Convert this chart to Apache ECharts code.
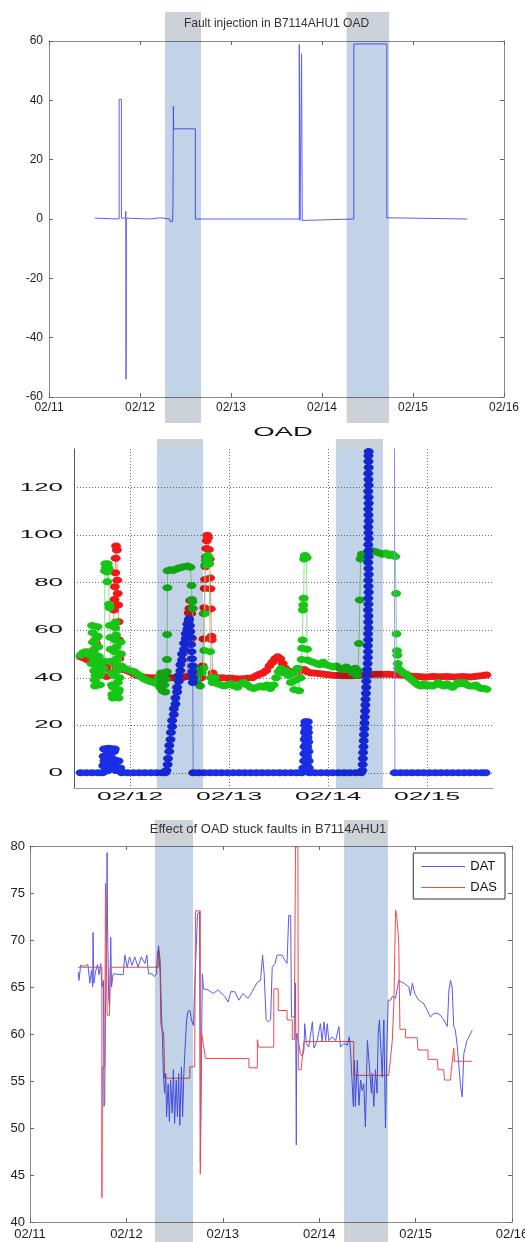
<!DOCTYPE html>
<html>
<head>
<meta charset="utf-8">
<script src="https://cdn.jsdelivr.net/npm/echarts@6/dist/echarts.min.js"></script>
<style>
  html, body { margin: 0; padding: 0; background: #ffffff; }
  #chart { width: 525px; height: 1242px; }
</style>
</head>
<body>
<div id="chart"></div>
<script>
// Time is in hours counted from 02/11 00:00.
const dayTicks = ['02/11', '02/12', '02/13', '02/14', '02/15', '02/16'];
const oadDayValues = [24, 48, 72, 96];
const oadDayLabels = ['02/12', '02/13', '02/14', '02/15'];
const oadTickValues = [0, 20, 40, 60, 80, 100, 120];
const oadTickLabels = ['0', '20', '40', '60', '80', '100', '120'];

// Fault windows (start, end) for each panel
const faultWindowsTop = [[30.6, 40.1], [78.5, 89.7]];
const faultWindowsMid = [[30.5, 41.7], [73.9, 85.3]];
const faultWindowsBottom = [[31.1, 40.6], [78.2, 89.1]];

// Injected fault on the outdoor air damper
const faultInjection = [
  [12.05, 0.3], [12.4, 0], [18.5, 0], [18.5, 40.3], [19.1, 40.3], [19.1, 0.3], [20.2, 0.3], [20.25, 2.6],
  [20.3, -54], [20.35, -48], [20.4, 0.3], [20.8, 0], [26.6, 0], [26.6, 0.4], [29.3, 0.4], [29.3, 0],
  [31.9, 0], [31.9, -0.8], [32.6, -0.8], [32.7, 5], [32.8, 38], [32.9, 30.4], [38.6, 30.4], [38.6, 0],
  [66.0, 0], [66.0, 58.8], [66.2, -0.5], [66.5, 0], [66.6, 55.7], [66.8, -0.5], [67.0, 0], [80.4, 0],
  [80.4, 59], [89.1, 59], [89.1, 0.4], [89.9, 0.4], [89.9, 0], [110.3, 0]
];

// OAD panel: fault signal (blue), reference position (red), measured position (green)
const oadFault = [
  [12.0, 0], [13.4, 0], [14.8, 0], [16.2, 0], [17.3, 0],
  [17.5, 3], [17.6, 7], [17.7, 10], [17.8, 5], [17.9, 0.5], [18.0, 6], [18.1, 10], [18.3, 4], [18.4, 9.5],
  [18.6, 1], [18.7, 7], [18.8, 10.3], [19.0, 3], [19.1, 8], [19.3, 10], [19.5, 2], [19.6, 6], [19.8, 10],
  [20.0, 4], [20.1, 9], [20.3, 10], [20.4, 5.3], [20.6, 1], [20.8, 5], [21.0, 2], [21.2, 5], [21.4, 1.5],
  [21.6, 2], [21.8, 0.5], [22.0, 0],
  [23.4, 0], [24.8, 0], [26.2, 0], [27.6, 0], [29.0, 0], [30.4, 0], [31.8, 0], [32.5, 0],
  [32.8, 1], [33.1, 3.5], [33.2, 6], [33.5, 9], [33.5, 11.5], [33.8, 14], [33.9, 17], [34.2, 19.5],
  [34.2, 22], [34.6, 24.5], [34.6, 27], [35.0, 29], [35.0, 31.5], [35.4, 34], [35.4, 36], [35.8, 38.5],
  [35.8, 41], [36.2, 43], [36.2, 45.5], [36.6, 47.5], [36.6, 50], [37.1, 52], [37.1, 54.5], [37.5, 56.5],
  [37.5, 58.5], [37.9, 60.5], [37.9, 62.5], [38.2, 64], [38.3, 64.8], [38.5, 62], [38.6, 59.5], [38.7, 57],
  [38.8, 54], [38.9, 51], [39.0, 48], [39.1, 45], [39.1, 42.5], [39.2, 40], [39.2, 38], [39.3, 0],
  [40.6, 0], [42.0, 0], [43.4, 0], [44.8, 0], [46.2, 0], [47.6, 0], [49.0, 0], [50.4, 0], [51.8, 0],
  [53.2, 0], [54.6, 0], [56.0, 0], [57.4, 0], [58.8, 0], [60.2, 0], [61.6, 0], [63.0, 0], [64.4, 0], [65.6, 0],
  [66.0, 2], [66.2, 5], [66.25, 8], [66.3, 11], [66.35, 14], [66.4, 17], [66.45, 20], [66.5, 21.5],
  [66.6, 18], [66.65, 15], [66.7, 12], [66.75, 9], [66.8, 6], [66.85, 3], [66.9, 7], [66.95, 11],
  [67.0, 15], [67.05, 19], [67.1, 21.5], [67.15, 17], [67.2, 13], [67.25, 9], [67.3, 5], [67.35, 2], [67.5, 0],
  [68.9, 0], [70.3, 0], [71.7, 0], [73.1, 0], [74.5, 0], [75.9, 0], [77.3, 0], [78.7, 0], [80.0, 0],
  [80.3, 1], [80.4, 3.5], [80.45, 6], [80.5, 8.5], [80.6, 11], [80.65, 13.5], [80.7, 16], [80.8, 18.5],
  [80.85, 21], [80.9, 23.5], [81.0, 26], [81.05, 28.5], [81.1, 31], [81.2, 33.5], [81.25, 36], [81.3, 38.5],
  [81.4, 41], [81.5, 43.5], [81.6, 46], [81.65, 48.5], [81.7, 51], [81.65, 53.5], [81.75, 56], [81.7, 58.5],
  [81.8, 61], [81.75, 63.5], [81.8, 66], [81.7, 68.5], [81.8, 71], [81.75, 73.5], [81.85, 76], [81.8, 78.5],
  [81.75, 81], [81.85, 83.5], [81.8, 86], [81.75, 88.5], [81.85, 91], [81.8, 93.5], [81.75, 96],
  [81.85, 98.5], [81.8, 101], [81.75, 103.5], [81.85, 106], [81.8, 108.5], [81.75, 111], [81.85, 113.5],
  [81.8, 116], [81.75, 118.5], [81.85, 121], [81.8, 123.5], [81.75, 126], [81.85, 128.5], [81.8, 131],
  [81.8, 133.5], [81.85, 135.2], [82.0, 150], [88.1, 150], [88.2, 0],
  [89.6, 0], [91.0, 0], [92.4, 0], [93.8, 0], [95.2, 0], [96.6, 0], [98.0, 0], [99.4, 0], [100.8, 0],
  [102.2, 0], [103.6, 0], [105.0, 0], [106.4, 0], [107.8, 0], [109.2, 0], [110.2, 0]
];

const oadReference = [
  [12.0, 48.8], [12.8, 48.3], [13.6, 47.6], [14.4, 47], [15.0, 46.5], [15.3, 52], [15.5, 56], [15.7, 54.5],
  [15.9, 47], [16.6, 46], [17.4, 45], [18.0, 44.5], [18.3, 40.5], [18.6, 44], [19.2, 43.5], [19.8, 44],
  [20.0, 62], [20.1, 68.5], [20.2, 73], [20.3, 78.3], [20.4, 84.2], [20.5, 90.3], [20.6, 95.5], [20.8, 93.8],
  [20.9, 81.1], [21.0, 75.5], [21.1, 70.6], [21.2, 63.6], [21.3, 55.9], [21.4, 48], [21.6, 44], [22.4, 43.5],
  [23.2, 43], [24.0, 42.5], [24.8, 41.8], [25.6, 41], [26.4, 40.6], [27.2, 40.3], [28.0, 40.1], [29.0, 40],
  [30.0, 40], [31.0, 40], [32.0, 40], [33.0, 40], [34.0, 40], [35.0, 40], [36.0, 40], [37.0, 40.2],
  [37.8, 40.5], [38.2, 67.3], [38.4, 69.2], [38.6, 72.5], [38.8, 67], [39.0, 56.6], [39.2, 42], [39.8, 40.5],
  [40.6, 40], [41.3, 40], [41.6, 45], [41.8, 56.3], [41.9, 67], [42.0, 69.5], [42.1, 77.6], [42.2, 81.4],
  [42.3, 86.7], [42.4, 90.9], [42.5, 94.4], [42.6, 97.7], [42.7, 100], [42.9, 99], [43.1, 94], [43.3, 90],
  [43.4, 82], [43.5, 77.5], [43.6, 69], [43.7, 57.5], [43.8, 56], [44.0, 42], [44.4, 40.5], [45.2, 40],
  [46.4, 40], [47.6, 39.8], [48.8, 39.8], [50.0, 39.6], [51.2, 39.6], [52.4, 39.8], [53.6, 40], [54.6, 40.8],
  [55.4, 41.5], [56.2, 42], [57.0, 43], [57.8, 45], [58.5, 46.5], [59.2, 48], [59.8, 48.8], [60.4, 48],
  [61.0, 46], [61.6, 44], [62.2, 43], [63.0, 42.5], [63.8, 42], [64.6, 42], [65.4, 43], [66.2, 43.5],
  [67.0, 42.5], [67.8, 42], [68.6, 42], [69.6, 41.8], [70.6, 41.6], [71.6, 41.4], [72.6, 41.2], [73.6, 41],
  [74.6, 41], [75.6, 40.8], [76.6, 40.8], [77.6, 40.8], [78.6, 41], [79.6, 41], [80.6, 41.2], [81.6, 41.2],
  [82.6, 41.4], [83.6, 41.5], [84.6, 41.5], [85.6, 41.5], [86.6, 41.5], [87.6, 41.4], [88.6, 41.3],
  [89.6, 41.2], [90.6, 41], [91.6, 40.8], [92.6, 40.6], [93.6, 40.5], [94.6, 40.4], [95.6, 40.3],
  [96.6, 40.4], [97.6, 40.5], [98.6, 40.4], [99.6, 40.4], [100.6, 40.5], [101.6, 40.4], [102.6, 40.3],
  [103.6, 40.4], [104.6, 40.5], [105.6, 40.4], [106.6, 40.3], [107.6, 40.5], [108.6, 40.7], [109.6, 41],
  [110.4, 41.2]
];

const oadMeasured = [
  [12.0, 49.5], [12.6, 50.5], [13.2, 51], [13.8, 50.8], [14.3, 49.5], [14.6, 46], [14.8, 62], [14.9, 59],
  [15.0, 55], [15.1, 51], [15.2, 47], [15.3, 43], [15.4, 39], [15.5, 36.5], [15.6, 41], [15.7, 45],
  [15.8, 49], [15.9, 53], [16.0, 57], [16.1, 61.5], [16.2, 57.5], [16.3, 53], [16.4, 49], [16.5, 45],
  [16.6, 41], [16.7, 37], [16.9, 42], [17.2, 47], [17.5, 44], [17.8, 47], [17.9, 85], [18.0, 88],
  [18.2, 86.5], [18.4, 84.5], [18.5, 80.4], [18.6, 88], [18.8, 86], [18.9, 71], [19.0, 69.5], [19.1, 62],
  [19.2, 57], [19.3, 52], [19.4, 47], [19.5, 42], [19.6, 37], [19.7, 33], [19.8, 31.5], [19.9, 36],
  [20.0, 41], [20.1, 46], [20.2, 51], [20.3, 56], [20.4, 61], [20.5, 63.5], [20.6, 58], [20.7, 53],
  [20.8, 48], [20.9, 43], [21.0, 38], [21.1, 34], [21.2, 31.5], [21.3, 35], [21.4, 40], [21.5, 45],
  [21.6, 50], [21.7, 55], [21.8, 50], [21.9, 45], [22.5, 44], [23.3, 43.5], [24.2, 43], [25.0, 42.5],
  [25.8, 41.5], [26.6, 40.5], [27.4, 39.5], [28.2, 38.8], [29.0, 38.3], [29.8, 38], [30.5, 37.5],
  [31.0, 40], [31.3, 36], [31.5, 42], [31.7, 38], [31.9, 34.5], [32.1, 41], [32.3, 37], [32.5, 34],
  [32.7, 39.5], [32.9, 42.5], [32.95, 47.7], [33.0, 58.2], [33.05, 77.9], [33.1, 85], [33.8, 85.5],
  [34.5, 85.2], [35.2, 85.8], [35.9, 86.2], [36.6, 86.5], [37.3, 86.8], [38.0, 87], [38.6, 86.5],
  [38.9, 78.8], [39.0, 73], [39.1, 72], [39.2, 69.2], [39.3, 45], [39.6, 40], [40.2, 38], [40.6, 43],
  [41.0, 36.5], [41.4, 42], [41.8, 44], [42.0, 51.5], [42.1, 67], [42.2, 87.5], [42.4, 89.5], [42.6, 91],
  [42.8, 91.5], [43.0, 90.5], [43.2, 88], [43.4, 51], [43.6, 40], [44.0, 38], [44.5, 40], [45.2, 37.5],
  [46.0, 37], [46.8, 36.5], [47.6, 37], [48.4, 37.5], [49.2, 36.5], [50.0, 36], [50.8, 37.5], [51.6, 38],
  [52.4, 37], [53.2, 36], [54.0, 35.5], [54.8, 36], [55.6, 36.5], [56.4, 36], [57.2, 37], [58.0, 35.5],
  [58.8, 37], [59.4, 40], [60.0, 42.5], [60.6, 43.8], [61.2, 42], [61.8, 43], [62.4, 41], [63.0, 38],
  [63.4, 42], [63.8, 35], [64.2, 39], [64.6, 44], [65.0, 34.5], [65.3, 40], [65.6, 47.7], [65.7, 52.4],
  [65.8, 55.9], [65.9, 68.5], [66.0, 70.6], [66.1, 73.5], [66.2, 90], [66.4, 91.5], [66.6, 91],
  [66.8, 90.5], [66.9, 52], [67.0, 47.5], [67.6, 47], [68.4, 46.5], [69.2, 46], [70.0, 45.5], [70.8, 46.5],
  [71.6, 45.5], [72.4, 45], [73.2, 44.5], [74.0, 45], [74.8, 44], [75.6, 43.5], [76.4, 44.5], [77.2, 43.5],
  [78.0, 42], [78.6, 44], [79.0, 41], [79.3, 43], [79.5, 54.4], [79.7, 72.7], [79.9, 90], [80.2, 92],
  [80.6, 90.5], [81.0, 91.5], [81.4, 92.5], [82.0, 93], [82.8, 93.5], [83.6, 93], [84.4, 92.5], [85.2, 92],
  [86.0, 92.5], [86.8, 91.5], [87.6, 92], [88.3, 91], [88.5, 75.5], [88.6, 58.4], [88.7, 51.4], [88.8, 49.5],
  [88.9, 46], [89.0, 43.9], [89.6, 43], [90.3, 42], [91.0, 41.5], [91.7, 40], [92.4, 39], [93.1, 38],
  [93.8, 37], [94.5, 36.5], [95.2, 37.5], [95.9, 36.5], [96.6, 37], [97.3, 36.5], [98.0, 37], [98.7, 38],
  [99.4, 37], [100.1, 36.5], [100.8, 37.5], [101.5, 36.5], [102.2, 36], [102.9, 37], [103.6, 38],
  [104.3, 37.5], [105.0, 38], [105.7, 37], [106.4, 36.5], [107.1, 36.5], [107.8, 37], [108.5, 36],
  [109.2, 35.5], [109.9, 35.5], [110.4, 35.2]
];

// Discharge air temperature (DAT) and its setpoint (DAS)
const dat = [
  [12.0, 66.6], [12.2, 65.7], [12.6, 67.3], [13.6, 67.2], [14.4, 67.4], [14.9, 65.4], [15.3, 66.8],
  [15.6, 65.0], [15.7, 70.8], [15.9, 65.4], [16.3, 66.6], [16.8, 67.4], [17.2, 66.3], [17.6, 67.5],
  [17.9, 65.0], [18.3, 65.7], [18.4, 52.3], [18.6, 52.6], [18.8, 62.9], [19.1, 72.8], [19.2, 79.3],
  [19.3, 71.7], [19.6, 63.6], [19.8, 62.9], [20.1, 70.3], [20.3, 65.0], [20.5, 65.7], [20.7, 66.4],
  [21.1, 66.3], [23.2, 66.3], [23.6, 68.4], [24.2, 67.1], [24.8, 68.2], [25.4, 67.3], [26.1, 68.2],
  [26.9, 67.1], [27.7, 68.2], [28.6, 67.5], [29.1, 68.4], [29.5, 66.4], [30.4, 66.4], [30.9, 66.1],
  [31.5, 66.4], [31.7, 68.4], [32.0, 69.4], [32.4, 67.8], [32.7, 62.5], [33.0, 59.3], [33.2, 55.8],
  [33.5, 53.7], [33.8, 55.8], [34.0, 51.2], [34.4, 54.7], [34.7, 50.7], [35.0, 55.1], [35.4, 51.6],
  [35.7, 56.2], [36.0, 50.5], [36.4, 55.1], [36.7, 51.2], [37.0, 55.8], [37.3, 50.3], [37.7, 56.5],
  [38.0, 51.2], [38.3, 55.8], [38.7, 59.3], [39.0, 61.5], [39.3, 62.4], [39.8, 62.5], [40.2, 61.5],
  [40.7, 60.9], [41.0, 65.0], [41.4, 69.3], [41.7, 72.8], [42.2, 73.0], [42.4, 46.4], [42.7, 46.4],
  [42.9, 66.4], [43.2, 64.8], [44.3, 64.7], [45.6, 64.3], [46.8, 64.7], [48.5, 64.0], [49.3, 63.4],
  [50.0, 64.5], [51.0, 64.5], [52.0, 63.6], [53.0, 64.3], [54.3, 63.8], [55.3, 64.5], [56.6, 65.5],
  [57.4, 65.7], [57.9, 68.4], [58.3, 66.4], [58.8, 61.5], [59.3, 61.3], [59.9, 61.5], [60.3, 67.1],
  [61.0, 67.5], [61.5, 68.4], [62.8, 68.4], [63.2, 68.0], [64.0, 67.5], [64.4, 72.6], [64.9, 72.6],
  [65.1, 61.8], [65.9, 61.8], [66.1, 65.4], [66.3, 48.2], [66.4, 60.1], [66.8, 59.3], [67.3, 57.9],
  [67.8, 57.6], [68.2, 58.3], [68.4, 61.1], [68.8, 59.0], [69.4, 58.6], [70.3, 61.3], [70.7, 58.5],
  [71.5, 59.3], [72.3, 61.1], [72.7, 59.2], [73.2, 61.3], [73.6, 59.3], [74.0, 61.1], [74.4, 59.3],
  [75.2, 59.7], [76.1, 59.3], [76.9, 60.8], [77.3, 58.6], [78.1, 59.0], [79.0, 58.8], [79.5, 59.7],
  [79.8, 58.3], [80.2, 58.1], [80.5, 52.3], [80.8, 57.2], [81.0, 52.3], [81.5, 57.2], [81.9, 52.4],
  [82.3, 55.1], [82.7, 54.0], [83.1, 54.7], [83.5, 50.1], [84.0, 59.3], [84.3, 59.5], [84.5, 56.5],
  [85.0, 53.7], [85.2, 55.8], [85.6, 52.3], [86.0, 56.2], [86.4, 53.7], [86.7, 60.1], [87.0, 61.5],
  [87.3, 61.5], [87.7, 55.4], [88.1, 61.5], [88.5, 50.0], [88.9, 59.7], [89.2, 63.6], [89.8, 63.6],
  [90.2, 64.0], [91.0, 63.8], [91.8, 65.7], [93.1, 65.4], [94.3, 65.0], [94.7, 64.1], [95.2, 65.4],
  [95.8, 64.3], [96.8, 63.6], [98.1, 63.2], [98.9, 62.5], [99.7, 61.8], [100.5, 62.2], [101.4, 62.2],
  [102.2, 62.0], [103.0, 61.5], [103.9, 60.8], [104.3, 64.7], [104.7, 65.7], [105.1, 65.0], [105.5, 60.8],
  [105.9, 60.4], [106.4, 58.6], [106.8, 56.5], [107.2, 54.4], [107.6, 53.3], [108.0, 57.9], [108.4, 58.6],
  [108.8, 59.3], [109.3, 59.7], [110.1, 60.4]
];

const das = [
  [12.0, 67.1], [17.9, 67.1], [17.9, 42.6], [18.0, 56.5], [18.6, 56.5], [18.8, 76.0], [19.2, 76.0],
  [19.2, 62.0], [19.8, 62.0], [20.0, 67.1], [31.9, 67.1], [32.0, 68.9], [32.4, 66.5], [32.6, 61.0],
  [33.3, 60.0], [33.5, 55.3], [39.8, 55.3], [39.8, 56.5], [41.0, 56.5], [41.2, 73.1], [42.4, 73.1],
  [42.4, 45.1], [42.7, 60.1], [43.7, 57.4], [54.5, 57.4], [54.5, 56.4], [56.6, 56.4], [56.6, 59.4],
  [56.9, 58.6], [60.7, 58.6], [60.7, 64.8], [61.8, 64.8], [61.8, 62.5], [64.0, 62.5], [64.0, 61.5],
  [65.3, 61.5], [65.3, 59.4], [65.8, 59.4], [66.1, 79.9], [66.7, 79.9], [66.8, 56.2], [67.5, 56.2],
  [68.2, 59.2], [80.6, 59.2], [80.6, 55.6], [89.3, 55.6], [90.2, 59.3], [90.6, 63.5], [91.0, 73.2],
  [91.3, 72.5], [91.8, 69.9], [92.1, 60.5], [93.5, 60.5], [93.5, 59.6], [96.4, 59.6], [96.6, 58.3],
  [99.1, 58.3], [99.1, 57.3], [101.4, 57.3], [101.6, 56.2], [103.0, 56.2], [103.2, 55.1], [104.7, 55.1],
  [104.9, 56.2], [105.5, 58.5], [105.7, 57.1], [110.1, 57.1]
];

// ---- layout ----
const FONT = '"Liberation Sans", Arial, sans-serif';
const G1 = { left: 49, top: 41, width: 455, height: 356 };
const G2 = { left: 74, top: 449, width: 419, height: 339 };
const G3 = { left: 30, top: 846, width: 482, height: 376 };
const BAND_BLUE = '#c2d3e8';
const BAND_GRAY = '#cdd1d8';

function gridOf(g) {
  return { left: g.left, top: g.top, width: g.width, height: g.height, outerBoundsMode: 'none', containLabel: false };
}

// Boxed axes: ticks inside on all four sides
function boxX(gridIndex, position, showLabel, fontSize, margin) {
  return {
    gridIndex, type: 'value', position, min: 0, max: 120, interval: 24,
    axisLine: { show: true, onZero: false, lineStyle: { color: '#8a8a8a', width: 1 } },
    axisTick: { show: true, inside: true, length: 4, lineStyle: { color: '#666' } },
    axisLabel: { show: showLabel, formatter: v => dayTicks[Math.round(v / 24)], color: '#1e1e1e',
      fontSize, fontFamily: FONT, margin },
    splitLine: { show: false }
  };
}
function boxY(gridIndex, position, min, max, interval, showLabel, fontSize, margin) {
  return {
    gridIndex, type: 'value', position, min, max, interval,
    axisLine: { show: true, onZero: false, lineStyle: { color: '#8a8a8a', width: 1 } },
    axisTick: { show: true, inside: true, length: 4, lineStyle: { color: '#666' } },
    axisLabel: { show: showLabel, color: '#1e1e1e', fontSize, fontFamily: FONT, margin },
    splitLine: { show: false }
  };
}

function markerSeries(name, data, color, lineColor, z) {
  return {
    name, type: 'line', xAxisIndex: 2, yAxisIndex: 2, data, z,
    symbol: 'circle', symbolSize: [10, 7], showSymbol: true, showAllSymbol: true,
    itemStyle: { color }, lineStyle: { color: lineColor, width: 1 },
    emphasis: { disabled: true }, silent: true, clip: true
  };
}

const chart = echarts.init(document.getElementById('chart'), null, { renderer: 'canvas', width: 525, height: 1242 });

chart.setOption({
  animation: false,
  backgroundColor: '#ffffff',
  grid: [gridOf(G1), gridOf(G2), gridOf(G3)],
  xAxis: [
    boxX(0, 'bottom', true, 12, 5),
    boxX(0, 'top', false, 12, 5),
    {
      gridIndex: 1, type: 'value', min: 10.4, max: 112,
      axisLine: { show: true, onZero: false, lineStyle: { color: '#9a9a9a', width: 1 } },
      axisTick: { show: false, customValues: oadDayValues },
      axisLabel: { show: false, customValues: oadDayValues },
      splitLine: { show: true, lineStyle: { color: '#6e6e6e', width: 1, type: [1, 2] } }
    },
    boxX(2, 'bottom', true, 13, 6),
    boxX(2, 'top', false, 13, 6)
  ],
  yAxis: [
    boxY(0, 'left', -60, 60, 20, true, 12, 6),
    boxY(0, 'right', -60, 60, 20, false, 12, 6),
    {
      gridIndex: 1, type: 'value', min: -6.4, max: 136.3,
      axisLine: { show: true, onZero: false, lineStyle: { color: '#555', width: 1 } },
      axisTick: { show: false, customValues: oadTickValues },
      axisLabel: { show: false, customValues: oadTickValues },
      splitLine: { show: true, lineStyle: { color: '#6e6e6e', width: 1, type: [1, 2] } }
    },
    boxY(2, 'left', 40, 80, 5, true, 13, 5),
    boxY(2, 'right', 40, 80, 5, false, 13, 5)
  ],
  legend: {
    data: [{ name: 'DAT', icon: 'rect' }, { name: 'DAS', icon: 'rect' }],
    orient: 'vertical', right: 20, top: 853,
    backgroundColor: '#ffffff', borderColor: '#333', borderWidth: 1, borderRadius: 0,
    padding: [6, 8, 4, 8], itemGap: 6, itemWidth: 44, itemHeight: 1.2,
    textStyle: { color: '#111', fontSize: 13, fontFamily: FONT, lineHeight: 15 }, selectedMode: false
  },
  series: [
    {
      name: 'Fault injection', type: 'line', xAxisIndex: 0, yAxisIndex: 0, data: faultInjection,
      symbol: 'none', lineStyle: { color: '#5f5ff0', width: 1 }, silent: true
    },
    markerSeries('OAD reference', oadReference, '#f01818', '#f08a8a', 2),
    markerSeries('OAD measured', oadMeasured, '#16c616', '#92dc92', 3),
    markerSeries('OAD fault', oadFault, '#1a2ee6', '#8c8cf2', 4),
    {
      name: 'DAT', type: 'line', xAxisIndex: 3, yAxisIndex: 3, data: dat,
      symbol: 'none', lineStyle: { color: '#5a5aee', width: 1 }, itemStyle: { color: '#5a5aee' }, silent: true
    },
    {
      name: 'DAS', type: 'line', xAxisIndex: 3, yAxisIndex: 3, data: das,
      symbol: 'none', lineStyle: { color: '#f04a4a', width: 1 }, itemStyle: { color: '#f04a4a' }, silent: true
    }
  ]
});

// ---- overlays: fault windows, titles and the stretched OAD labels ----
const px = (axis, v) => chart.convertToPixel({ xAxisIndex: axis }, v);
const py = (axis, v) => chart.convertToPixel({ yAxisIndex: axis }, v);

function rect(x, y, w, h, fill) {
  return { type: 'rect', z: 50, silent: true, shape: { x, y, width: w, height: h },
    style: { fill, blend: 'multiply' } };
}
function windowRects(windows, axis, g, capAbove, capBelow) {
  const out = [];
  windows.forEach(([a, b]) => {
    const x0 = px(axis, a), x1 = px(axis, b), w = x1 - x0;
    out.push(rect(x0, g.top, w, g.height, BAND_BLUE));
    if (capAbove) out.push(rect(x0, g.top - capAbove, w, capAbove, BAND_GRAY));
    if (capBelow) out.push(rect(x0, g.top + g.height, w, capBelow, BAND_GRAY));
  });
  return out;
}
function label(text, x, y, align, size, scaleX, color) {
  return { type: 'text', z: 60, silent: true, x, y, scaleX: scaleX || 1,
    style: { text, fill: color || '#1e1e1e', fontSize: size, fontFamily: FONT,
      align, textAlign: align, verticalAlign: 'middle', textVerticalAlign: 'middle' } };
}

const overlays = []
  .concat(windowRects(faultWindowsTop, 0, G1, 29, 26))
  .concat(windowRects(faultWindowsMid, 2, G2, 10, 0))
  .concat(windowRects(faultWindowsBottom, 3, G3, 26, 20));

overlays.push(label('Fault injection in B7114AHU1 OAD', G1.left + G1.width / 2, 24, 'center', 12, 1, '#333'));
overlays.push(label('OAD', 283, 433, 'center', 12.5, 2.2, '#111'));
overlays.push(label('Effect of OAD stuck faults in B7114AHU1', 268, 829, 'center', 13, 1, '#333'));

oadTickValues.forEach((v, i) => {
  overlays.push(label(oadTickLabels[i], G2.left - 11, py(2, v), 'right', 11.5, 2.25, '#111'));
});
oadDayValues.forEach((v, i) => {
  overlays.push(label(oadDayLabels[i], px(2, v), 797, 'center', 11.5, 2.3, '#111'));
});

chart.setOption({ graphic: overlays });
</script>
</body>
</html>
